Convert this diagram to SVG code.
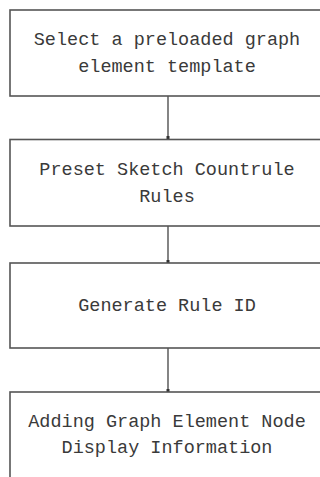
<svg xmlns="http://www.w3.org/2000/svg" width="320" height="477" viewBox="0 0 320 477">
<defs>
<style>
.box{fill:#fff;stroke:#555;stroke-width:1.6}
.t{font-family:"Liberation Mono","DejaVu Sans Mono",monospace;font-size:18.5px;fill:#3a3a3a;text-anchor:middle}
.c{stroke:#666;stroke-width:1.6;fill:none}
</style>
<marker id="a" markerWidth="4" markerHeight="4" refX="2" refY="2" markerUnits="userSpaceOnUse"><rect x="0.5" y="0" width="3" height="4" fill="#333"/></marker>
</defs>
<rect width="320" height="477" fill="#fff"/>
<g id="connectors">
<line class="c" x1="168" y1="96" x2="168" y2="138" marker-end="url(#a)"/>
<line class="c" x1="168" y1="226" x2="168" y2="262" marker-end="url(#a)"/>
<line class="c" x1="168" y1="348" x2="168" y2="391" marker-end="url(#a)"/>
</g>
<g id="n1">
<rect class="box" x="10" y="10" width="320" height="86"/>
<text class="t" x="167" y="45">Select a preloaded graph</text>
<text class="t" x="167" y="72">element template</text>
</g>
<g id="n2">
<rect class="box" x="10" y="139.5" width="320" height="86.5"/>
<text class="t" x="167" y="175">Preset Sketch Countrule</text>
<text class="t" x="167" y="202">Rules</text>
</g>
<g id="n3">
<rect class="box" x="10" y="263" width="320" height="85"/>
<text class="t" x="167" y="311">Generate Rule ID</text>
</g>
<g id="n4">
<rect class="box" x="10" y="392" width="320" height="100"/>
<text class="t" x="167" y="427">Adding Graph Element Node</text>
<text class="t" x="167" y="453">Display Information</text>
</g>
</svg>
